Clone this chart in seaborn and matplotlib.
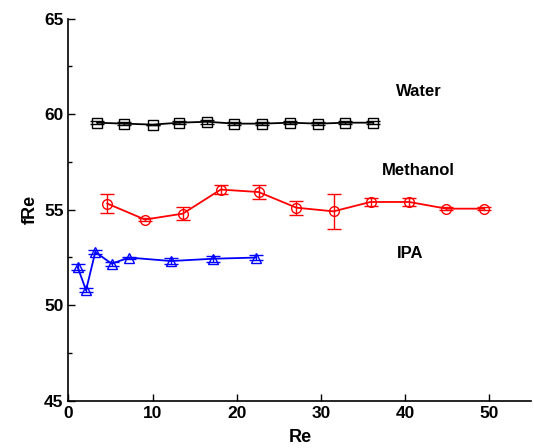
import numpy as np
import pandas as pd
import matplotlib
matplotlib.use("Agg")
import matplotlib.pyplot as plt
from matplotlib.ticker import MultipleLocator
import seaborn as sns

# values
water_re = [3.4, 6.6, 10.0, 13.2, 16.5, 19.7, 23.0, 26.3, 29.7, 32.9, 36.2]
water_f = [59.55, 59.5, 59.45, 59.55, 59.6, 59.5, 59.5, 59.55, 59.5, 59.55, 59.55]
water_err = [0.08, 0.08, 0.0, 0.08, 0.1, 0.08, 0.08, 0.08, 0.08, 0.08, 0.08]

meth_re = [4.6, 9.1, 13.6, 18.1, 22.6, 27.1, 31.5, 35.9, 40.5, 44.9, 49.4]
meth_f = [55.32, 54.48, 54.79, 56.05, 55.92, 55.1, 54.91, 55.4, 55.4, 55.05, 55.05]
meth_err = [0.5, 0.1, 0.35, 0.22, 0.37, 0.37, 0.93, 0.23, 0.22, 0.08, 0.08]

ipa_re = [1.1, 2.1, 3.2, 5.15, 7.2, 12.2, 17.2, 22.25]
ipa_f = [52.0, 50.78, 52.78, 52.17, 52.49, 52.31, 52.43, 52.49]
ipa_err = [0.15, 0.1, 0.1, 0.1, 0.05, 0.15, 0.15, 0.13]

sns.set_style("ticks")
plt.rcParams['font.family'] = ['Liberation Sans', 'DejaVu Sans']
plt.rcParams['font.weight'] = 'bold'
plt.rcParams['text.color'] = 'black'
plt.rcParams['axes.labelcolor'] = 'black'
plt.rcParams['axes.edgecolor'] = 'black'
plt.rcParams['xtick.color'] = 'black'
plt.rcParams['ytick.color'] = 'black'

fig = plt.figure(figsize=(5.34, 4.48), dpi=100)
ax = fig.add_axes([0.128, 0.1056, 0.867, 0.853])

series = [
    (water_re, water_f, water_err, 'black', 's'),
    (meth_re, meth_f, meth_err, 'red', 'o'),
    (ipa_re, ipa_f, ipa_err, 'blue', '^'),
]
for re_, f_, err_, col, mk in series:
    df = pd.DataFrame({'Re': re_, 'fRe': f_})
    ax.errorbar(re_, f_, yerr=err_, fmt='none', ecolor=col, elinewidth=1.0,
                capsize=5, capthick=1.0)
    sns.lineplot(data=df, x='Re', y='fRe', ax=ax, color=col, marker=mk,
                 markersize=7, markerfacecolor='none', markeredgecolor=col,
                 markeredgewidth=1.0, linewidth=1.3, sort=False)

ax.text(41.65, 61.2, 'Water', fontsize=12, fontweight='bold', ha='center', va='center')
ax.text(41.6, 57.06, 'Methanol', fontsize=12, fontweight='bold', ha='center', va='center')
ax.text(40.55, 52.7, 'IPA', fontsize=12, fontweight='bold', ha='center', va='center')

ax.set_xlim(0, 55)
ax.set_ylim(45, 65)
ax.set_xticks([0, 10, 20, 30, 40, 50])
ax.set_yticks([45, 50, 55, 60, 65])
ax.yaxis.set_minor_locator(MultipleLocator(2.5))
ax.tick_params(direction='in', length=5, width=1, labelsize=12.5)
ax.tick_params(which='minor', direction='in', length=3, width=1)
for lab in ax.get_xticklabels() + ax.get_yticklabels():
    lab.set_fontweight('bold')
ax.spines['top'].set_visible(False)
ax.spines['right'].set_visible(False)
ax.spines['left'].set_linewidth(1.2)
ax.spines['bottom'].set_linewidth(1.2)
ax.set_xlabel('Re', fontsize=13, fontweight='bold', labelpad=6)
ax.set_ylabel('fRe', fontsize=13, fontweight='bold', labelpad=4)

fig.savefig('out.png', dpi=100)
